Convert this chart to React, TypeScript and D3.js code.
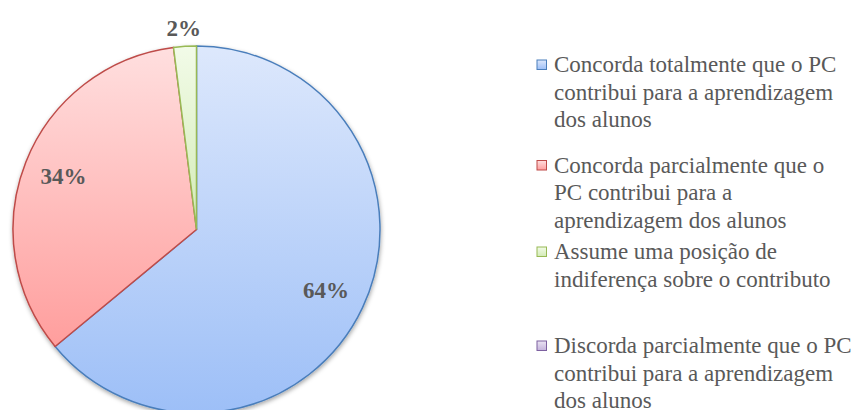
import React from "react";
import * as d3 from "d3";

const categories: string[][] = [
  ["Concorda totalmente que o PC", "contribui para a aprendizagem", "dos alunos"],
  ["Concorda parcialmente que o", "PC contribui para a", "aprendizagem dos alunos"],
  ["Assume uma posição de", "indiferença sobre o contributo"],
  ["Discorda parcialmente que o PC", "contribui para a aprendizagem", "dos alunos"],
];
const values: number[] = [64, 34, 2, 0];
const labels: string[] = ["64%", "34%", "2%", "0%"];

const strokeColors = ["#4a7ebb", "#be4b48", "#98b954", "#7d60a0"];
const lightColors = ["#dde8fc", "#ffdfdf", "#f2fbe8", "#ebe4f3"];
const darkColors = ["#9dbff7", "#ff9e9d", "#d3ebb6", "#c4b3dc"];

const W = 866;
const H = 410;
const cx = 196.5;
const cy = 229.5;
const R = 183.5;
const legendFirstBaselines = [72, 172.5, 259, 353];
const lineH = 27.5;

export default function App() {
  const pie = d3.pie<number>().sort(null).value((d) => d).startAngle(0).endAngle(2 * Math.PI);
  const arcs = pie(values);
  const arc = d3.arc<d3.PieArcDatum<number>>().innerRadius(0).outerRadius(R);

  return (
    <svg
      width={W}
      height={H}
      fontFamily="Liberation Serif"
      style={{ position: "absolute", left: 0, top: 0, fontFamily: '"Liberation Serif", "Times New Roman", Tinos, monospace' }}
    >
      <defs>
        {values.map((_, i) => (
          <linearGradient key={i} id={`g${i}`} x1={0} y1={0} x2={0} y2={1}>
            <stop offset="0%" stopColor={lightColors[i]} />
            <stop offset="100%" stopColor={darkColors[i]} />
          </linearGradient>
        ))}
        <filter id="shadow" x="-10%" y="-10%" width="120%" height="120%">
          <feDropShadow dx={0.5} dy={2} stdDeviation={2} floodColor="#000" floodOpacity={0.35} />
        </filter>
      </defs>
      <g transform={`translate(${cx},${cy})`}>
        <g filter="url(#shadow)">
          {arcs.map((a, i) =>
            a.endAngle - a.startAngle > 0 ? (
              <path key={i} d={arc(a) || ""} fill={`url(#g${i})`} stroke={strokeColors[i]} strokeWidth={1.5} />
            ) : null
          )}
        </g>
        {arcs.map((a, i) => {
          if (a.value <= 0) return null;
          const mid = (a.startAngle + a.endAngle) / 2;
          const rr = a.value < 5 ? R * 1.1 : R * 0.78;
          const x = rr * Math.sin(mid);
          const y = -rr * Math.cos(mid);
          return (
            <text
              key={i}
              x={x}
              y={y}
              textAnchor="middle"
              dominantBaseline="central"
              fontWeight="bold"
              fontSize={23}
              fill="#595959"
            >
              {labels[i]}
            </text>
          );
        })}
      </g>
      {categories.map((lines, i) => {
        const y0 = legendFirstBaselines[i];
        return (
          <g key={i}>
            <rect x={537} y={y0 - 12} width={9.5} height={9.5} fill={`url(#g${i})`} stroke={strokeColors[i]} strokeWidth={1} />
            {lines.map((l, j) => (
              <text key={j} x={554} y={y0 + j * lineH} fontSize={23} fill="#595959">
                {l}
              </text>
            ))}
          </g>
        );
      })}
    </svg>
  );
}
